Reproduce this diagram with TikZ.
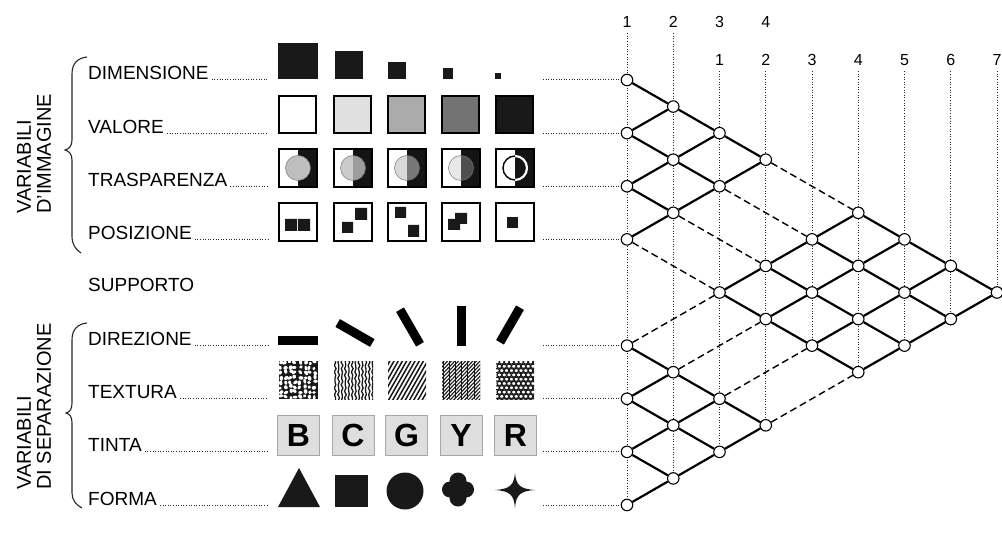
\documentclass[tikz,border=0pt]{standalone}
\usepackage{fontspec}
\setmainfont{Liberation Sans}
\usetikzlibrary{backgrounds}
\begin{document}
\begin{tikzpicture}[x=1pt,y=-1pt]
\tikzset{
 vnode/.style={circle, draw=black, line width=1.1pt, fill=white, minimum size=11.5pt, inner sep=0pt},
 latline/.style={line width=2.2pt, black},
 dashline/.style={line width=1.4pt, black, dash pattern=on 7pt off 4pt},
 dotline/.style={line width=1pt, black!85, dash pattern=on 1pt off 1.6pt},
 rowlab/.style={font=\fontsize{19}{22}\selectfont, inner sep=0pt, anchor=base west},
 collab/.style={font=\fontsize{16}{18}\selectfont, inner sep=5pt, anchor=base},
 vlabel/.style={font=\fontsize{20}{20}\selectfont, rotate=90, align=left, anchor=north west, inner sep=0pt},
 dirbar/.style={fill=black, minimum width=40pt, minimum height=9pt, inner sep=0pt},
 tintbox/.style={fill=black!13, draw=black!35, line width=0.8pt, minimum width=42pt, minimum height=40pt, inner sep=0pt, font=\fontsize{32}{32}\selectfont\bfseries},
 ink/.style={fill=black!90},
 brace/.style={line width=1.1pt, black!85},
}
\useasboundingbox (0,0) rectangle (1002,548);

% ---------- lattice nodes ----------
\foreach \c/\n in {0/0,1/1,2/2,3/3,0/2,1/3,2/4,0/4,1/5,0/6,
                   0/10,1/11,2/12,3/13,0/12,1/13,2/14,0/14,1/15,0/16}
  \node[vnode] (p\c-\n) at ({627+46.25*\c},{80+26.5625*\n}) {};
\foreach \a in {0,...,3}{\foreach \b in {0,...,3}{
  \pgfmathtruncatemacro{\cc}{5+\a-\b}\pgfmathtruncatemacro{\nn}{5+\a+\b}
  \node[vnode] (p\cc-\nn) at ({627+46.25*\cc},{80+26.5625*\nn}) {};}}

% ---------- column numbers ----------
\foreach \c/\t in {0/1,1/2,2/3,3/4}
  \node[collab] (ta\c) at ({627+46.25*\c},28) {\t};
\foreach \c/\t in {2/1,3/2,4/3,5/4,6/5,7/6,8/7}
  \node[collab] (tb\c) at ({627+46.25*\c},66) {\t};

\begin{pgfonlayer}{background}
 \draw[dotline] (ta0.south) -- (p0-16);
 \draw[dotline] (ta1.south) -- (p1-15);
 \draw[dotline] (tb2.south) -- (p2-14);
 \draw[dotline] (tb3.south) -- (p3-13);
 \draw[dotline] (tb4.south) -- (p4-10);
 \draw[dotline] (tb5.south) -- (p5-11);
 \draw[dotline] (tb6.south) -- (p6-10);
 \draw[dotline] (tb7.south) -- (p7-9);
 \draw[dotline] (tb8.south) -- (p8-8);
\end{pgfonlayer}

% ---------- lattice lines ----------
% upper triangle
\draw[latline] (p0-0) -- (p1-1) -- (p2-2) -- (p3-3);
\draw[latline] (p0-2) -- (p1-3) -- (p2-4);
\draw[latline] (p0-4) -- (p1-5);
\draw[latline] (p0-2) -- (p1-1);
\draw[latline] (p0-4) -- (p1-3) -- (p2-2);
\draw[latline] (p0-6) -- (p1-5) -- (p2-4) -- (p3-3);
% diamond
\draw[latline] (p5-5) -- (p6-6) -- (p7-7) -- (p8-8);
\draw[latline] (p4-6) -- (p5-7) -- (p6-8) -- (p7-9);
\draw[latline] (p3-7) -- (p4-8) -- (p5-9) -- (p6-10);
\draw[latline] (p2-8) -- (p3-9) -- (p4-10) -- (p5-11);
\draw[latline] (p2-8) -- (p3-7) -- (p4-6) -- (p5-5);
\draw[latline] (p3-9) -- (p4-8) -- (p5-7) -- (p6-6);
\draw[latline] (p4-10) -- (p5-9) -- (p6-8) -- (p7-7);
\draw[latline] (p5-11) -- (p6-10) -- (p7-9) -- (p8-8);
% lower triangle
\draw[latline] (p0-10) -- (p1-11) -- (p2-12) -- (p3-13);
\draw[latline] (p0-12) -- (p1-13) -- (p2-14);
\draw[latline] (p0-14) -- (p1-15);
\draw[latline] (p0-12) -- (p1-11);
\draw[latline] (p0-14) -- (p1-13) -- (p2-12);
\draw[latline] (p0-16) -- (p1-15) -- (p2-14) -- (p3-13);
% dashed links
\draw[dashline] (p3-3) -- (p5-5);
\draw[dashline] (p2-4) -- (p4-6);
\draw[dashline] (p1-5) -- (p3-7);
\draw[dashline] (p0-6) -- (p2-8);
\draw[dashline] (p0-10) -- (p2-8);
\draw[dashline] (p1-11) -- (p3-9);
\draw[dashline] (p2-12) -- (p4-10);
\draw[dashline] (p3-13) -- (p5-11);

% ---------- row labels and leaders ----------
\foreach \k/\n/\t in {0/0/DIMENSIONE, 1/2/VALORE, 2/4/TRASPARENZA, 3/6/POSIZIONE,
                      4/10/DIREZIONE, 5/12/TEXTURA, 6/14/TINTA, 7/16/FORMA}{
  \node[rowlab] (r\k) at (88,{80+26.5625*\n}) {\t};
  \coordinate (re\k) at (268,{80+26.5625*\n});
  \draw[dotline] ([xshift=3pt]r\k.base east) -- (re\k);
  \coordinate (rs\k) at (543,{80+26.5625*\n});
  \draw[dotline] (rs\k) -- (p0-\n);
}
\node[rowlab] (sup) at (88,291) {SUPPORTO};

% ---------- braces and group titles ----------
\draw[brace] (87,57) .. controls (78,58) and (72,63) .. (72,74) -- (72,140)
  .. controls (72,146) and (69,149) .. (65,150) .. controls (69,151) and (72,154) .. (72,160)
  -- (72,236) .. controls (72,244) and (75,249) .. (81,253);
\draw[brace] (87,323) .. controls (78,324) and (72,329) .. (72,340) -- (72,403)
  .. controls (72,409) and (70,412) .. (66,413) .. controls (70,414) and (72,417) .. (72,423)
  -- (72,493) .. controls (72,500) and (76,505) .. (82,508);
\node[vlabel] (g1) at (17,214) {VARIABILI\\D'IMMAGINE};
\node[vlabel] (g2) at (17,490) {VARIABILI\\DI SEPARAZIONE};

% ---------- DIMENSIONE ----------
\fill[ink] (278,43) rectangle (318,79);
\fill[ink] (335,51) rectangle (363,79);
\fill[ink] (388,62) rectangle (406,79);
\fill[ink] (443,68) rectangle (453,79);
\fill[ink] (495,73) rectangle (501,79);

% ---------- VALORE ----------
\foreach \L/\f in {279/white, 334/black!12, 388/black!33, 442/black!55, 496/black!90}
  \filldraw[fill=\f, draw=black, line width=1.2pt] (\L,96) rectangle ({\L+37},133);

% ---------- TRASPARENZA ----------
\foreach \L/\o in {279/1, 334/0.8, 388/0.58, 442/0.35}{
  \fill[white] (\L,149) rectangle ({\L+19},187);
  \fill[black!92] ({\L+19},149) rectangle ({\L+38},187);
  \fill[black!25, fill opacity=\o] ({\L+19},168) circle (12.5);
  \draw[black!55, line width=0.5pt] ({\L+19},168) circle (12.5);
  \draw[line width=1.2pt] (\L,149) rectangle ({\L+38},187);
}
\fill[white] (496,149) rectangle (515,187);
\fill[black!92] (515,149) rectangle (534,187);
\begin{scope}
  \clip (496,149) rectangle (515,187);
  \draw[black, line width=1.4pt] (515,168) circle (12);
\end{scope}
\begin{scope}
  \clip (515,149) rectangle (534,187);
  \draw[white, line width=2.2pt] (515,168) circle (12);
\end{scope}
\draw[line width=1.2pt] (496,149) rectangle (534,187);

% ---------- POSIZIONE ----------
\foreach \L in {279,334,388,442,496}
  \draw[line width=1.3pt, fill=white] (\L,203) rectangle ({\L+38},241);
\fill[ink] (285,219) rectangle (297,231) (298,219) rectangle (310,231);
\fill[ink] (355,208) rectangle (367,220) (342,222) rectangle (353,233);
\fill[ink] (395,207) rectangle (406,218) (408,225) rectangle (419,237);
\fill[ink] (455,213) rectangle (467,224) (448,219) rectangle (460,230);
\fill[ink] (507,217) rectangle (518,228);

% ---------- DIREZIONE ----------
\node[dirbar] (d1) at (298,340) {};
\node[dirbar, rotate=-30] (d2) at (355,333) {};
\node[dirbar, rotate=-60] (d3) at (410,327) {};
\node[dirbar, rotate=90] (d4) at (461,326) {};
\node[dirbar, rotate=60] (d5) at (510,325) {};

% ---------- TEXTURA ----------
\begin{scope}
  \clip (279,361) rectangle (318,399);
  \fill[black!90] (279,361) rectangle (318,399);
  \pgfmathsetseed{11}
  \foreach \i in {0,...,7}{\foreach \j in {0,...,7}{
    \pgfmathsetmacro{\xa}{280.5+4.9*\i+1.2*rand}
    \pgfmathsetmacro{\ya}{362.5+4.9*\j+1.2*rand}
    \pgfmathsetmacro{\ra}{1.9+0.7*rnd}
    \pgfmathsetmacro{\rb}{1.4+0.5*rnd}
    \pgfmathsetmacro{\an}{180*rnd}
    \fill[white] (\xa,\ya) ellipse [x radius=\ra, y radius=\rb, rotate=\an];
  }}
\end{scope}
\begin{scope}
  \clip (334,361) rectangle (373,399);
  \foreach \k in {0,...,11}
    \draw[black!90, line width=1.3pt] plot[smooth, domain=0:42, samples=14, variable=\t]
      ({334+1.2+3.4*\k+0.9*sin(\t*47+\k*70)}, {359+\t});
\end{scope}
\begin{scope}
  \clip (388,361) rectangle (426,399);
  \foreach \k in {-7,...,10}
    \draw[black!90, line width=1.5pt] ({388+4.2*\k},401) -- ({388+4.2*\k+24},359);
\end{scope}
\begin{scope}
  \clip (442,361) rectangle (480,399);
  \foreach \k in {-10,...,11}
    \draw[black!90, line width=1.1pt] ({442+3.6*\k},401) -- ({442+3.6*\k+40},359);
  \foreach \k in {0,...,6}
    \draw[black!90, line width=0.9pt] ({443+6.2*\k},361) -- ({443+6.2*\k},399);
\end{scope}
\begin{scope}
  \clip (496,361) rectangle (534,399);
  \foreach \i in {0,...,8}{\foreach \j in {0,...,9}{
    \pgfmathsetmacro{\xo}{496+1+4.8*\i+2.4*mod(\j,2)}
    \draw[black!90, line width=1.1pt] (\xo,{361+1+4.3*\j}) ellipse [x radius=2.4, y radius=2.1];
  }}
\end{scope}

% ---------- TINTA ----------
\foreach \x/\t in {298.5/B, 353/C, 406.5/G, 461/Y, 515.5/R}
  \node[tintbox] (tn\t) at (\x,435) {\t};

% ---------- FORMA ----------
\fill[ink] (278,507) -- (320,507) -- (299,468) -- cycle;
\fill[ink] (335,475) rectangle (368,507);
\fill[ink] (405,491) circle (18.5);
\fill[ink] (458,481) circle (8.5) (458,498) circle (8.5) (450,489.5) circle (8)
  (466,489.5) circle (8) (458,489.5) circle (6);
\fill[ink] (495,490) .. controls (510,489) and (514,485) .. (515,473)
  .. controls (516,485) and (520,489) .. (535,490)
  .. controls (520,491) and (516,495) .. (515,508)
  .. controls (514,495) and (510,491) .. cycle;
\end{tikzpicture}
\end{document}
